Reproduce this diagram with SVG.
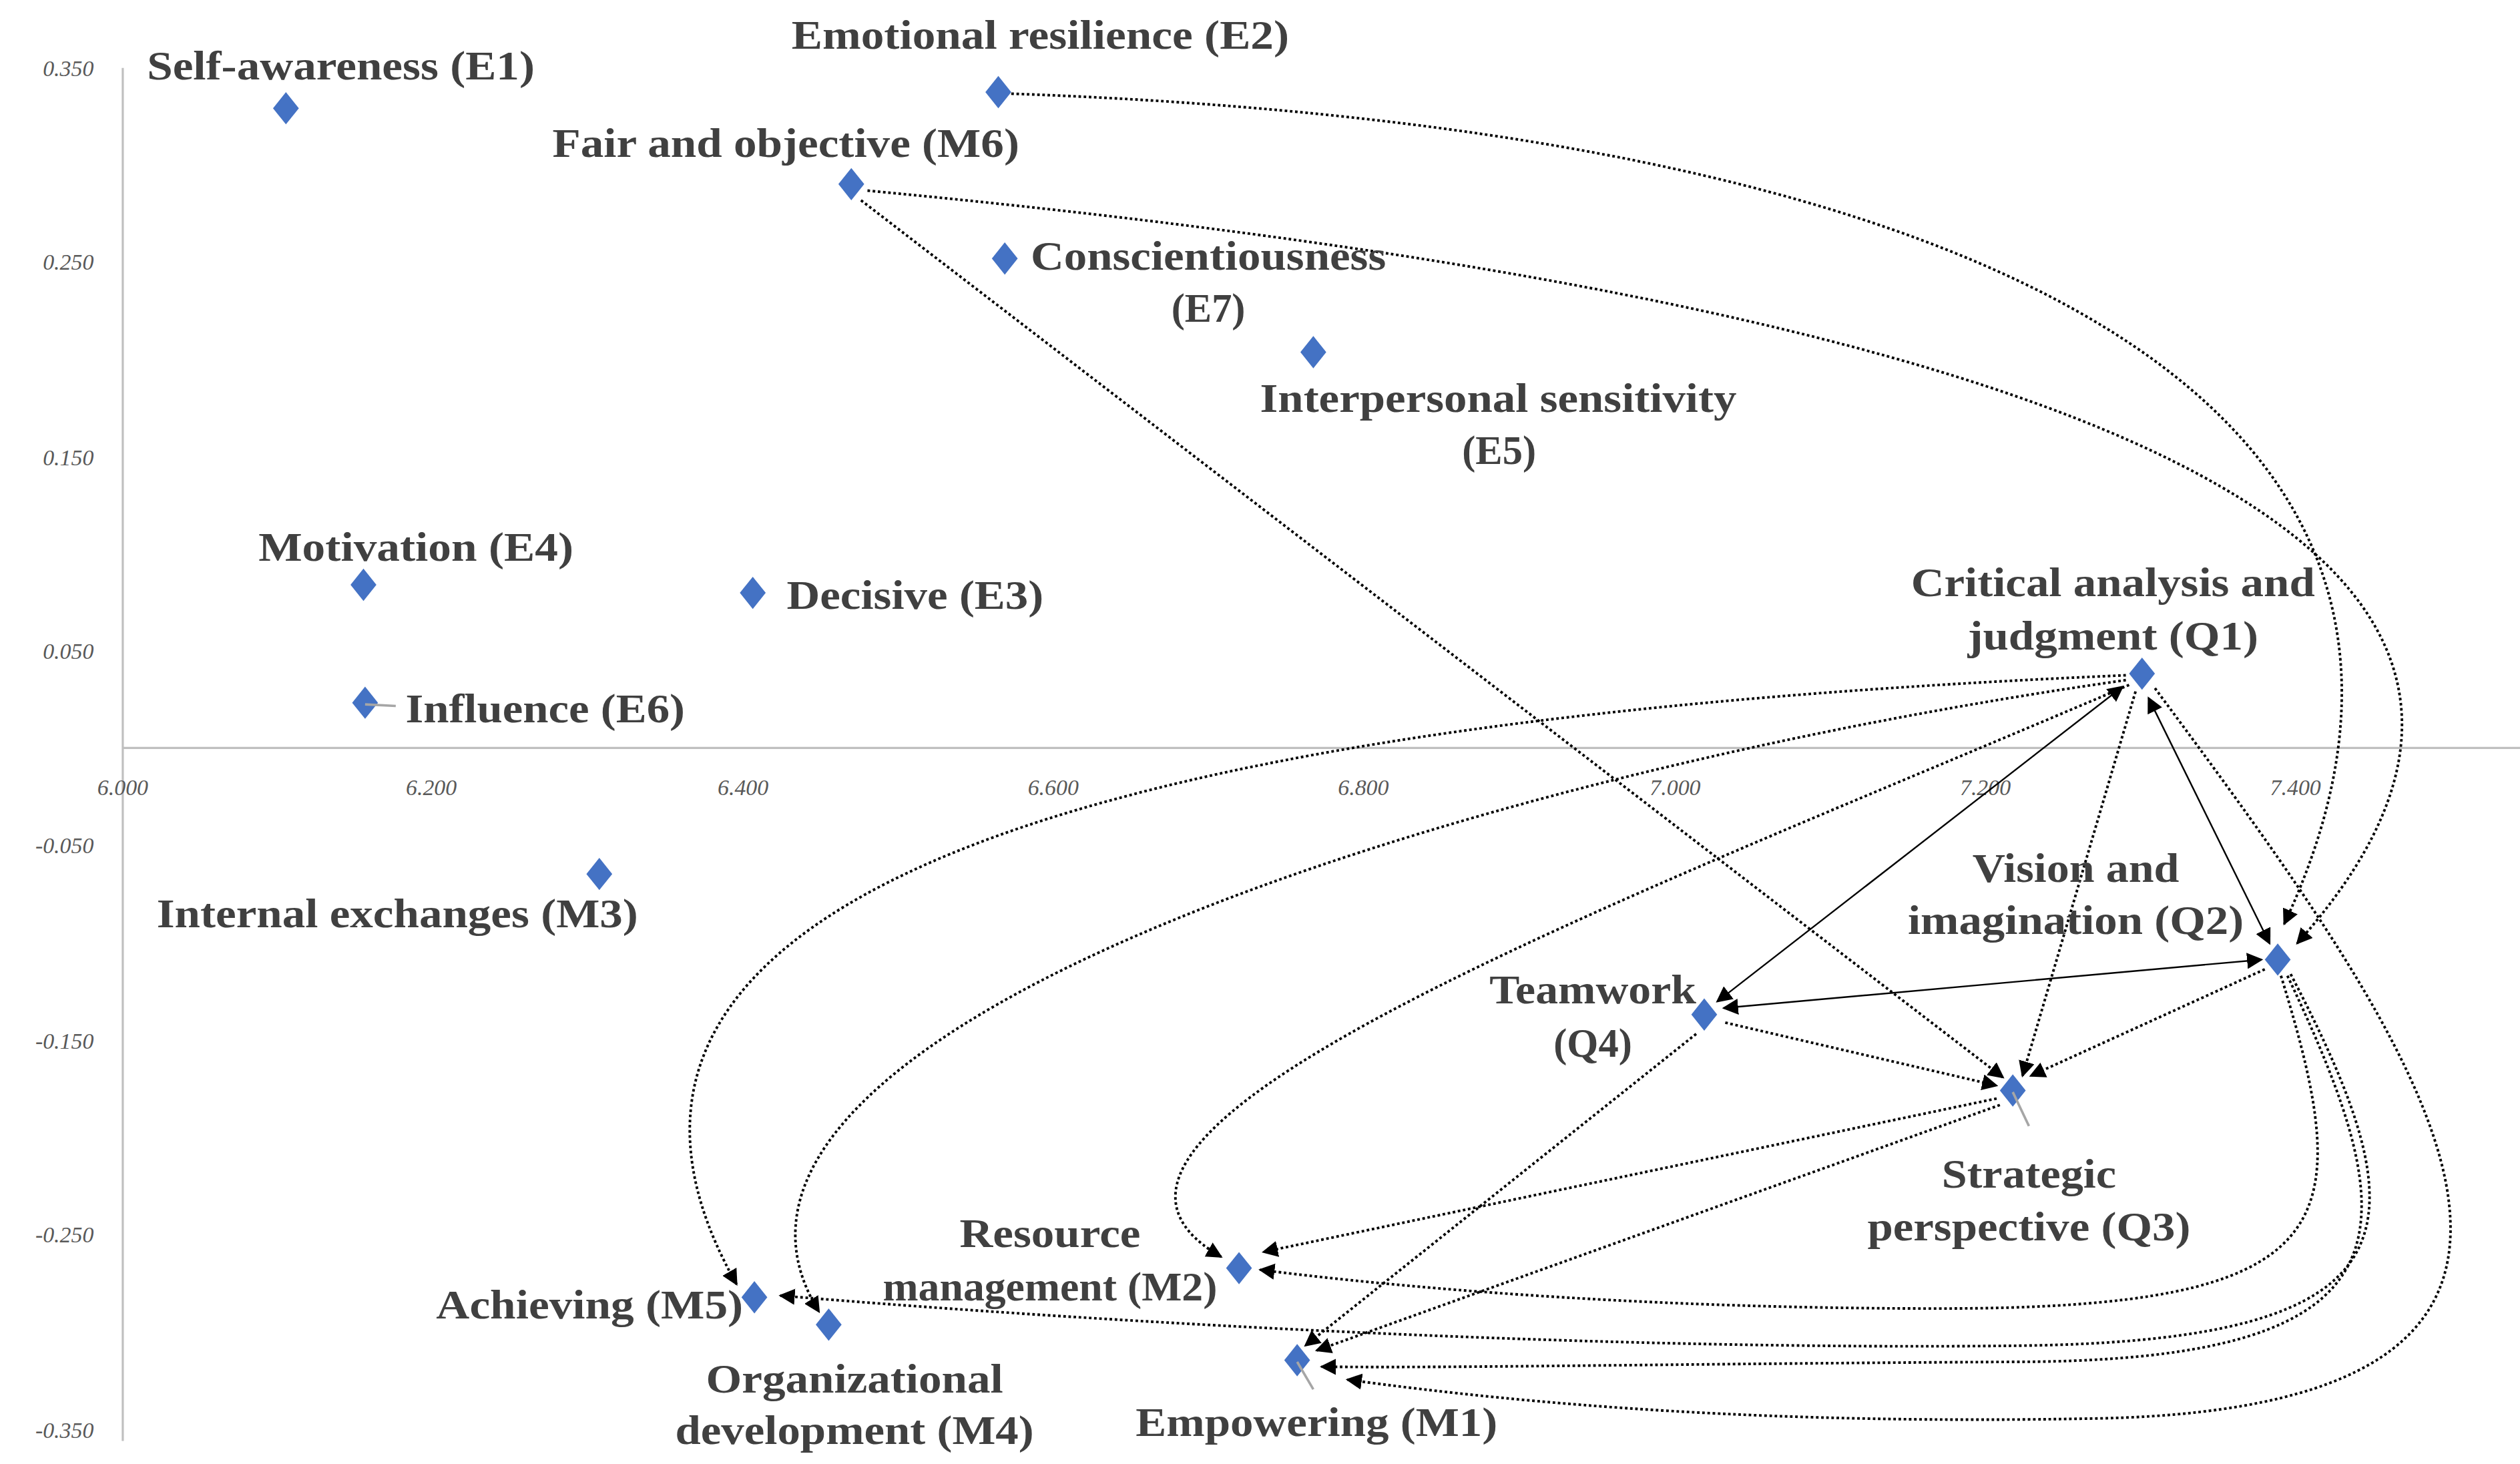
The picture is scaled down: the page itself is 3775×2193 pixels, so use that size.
<svg xmlns="http://www.w3.org/2000/svg" width="3775" height="2193" viewBox="0 0 3775 2193">
<style>
.ax{stroke:#bfbfbf;stroke-width:1.3;fill:none}
.tk{font-family:"Liberation Serif",serif;font-style:italic;font-size:14px;fill:#595959}
.lb{font-family:"Liberation Serif",serif;font-weight:bold;font-size:25px;fill:#404040}
.dt{stroke:#000;stroke-width:1.6;stroke-dasharray:1.6 1.6;fill:none}
.sl{stroke:#000;stroke-width:1;fill:none}
.nd{fill:#4472C4}
.ld{stroke:#a6a6a6;stroke-width:1.5}
</style>
<defs>
<marker id="ah" viewBox="0 0 10 10" refX="9" refY="5" markerWidth="10" markerHeight="10" markerUnits="userSpaceOnUse" orient="auto-start-reverse"><path d="M0,0 L10,5 L0,10 z" fill="#000"/></marker>
<path id="dm" d="M0,-10 L8,0 L0,10 L-8,0 z"/>
</defs>
<rect width="3775" height="2193" fill="#fff"/>
<g transform="scale(2.4199)">
<g id="axes">
<line class="ax" x1="76" y1="42" x2="76" y2="892"/>
<line class="ax" x1="76" y1="463" x2="1560" y2="463"/>
<g class="tk" text-anchor="end">
<text x="58" y="47">0.350</text><text x="58" y="167">0.250</text><text x="58" y="288">0.150</text><text x="58" y="408">0.050</text>
<text x="58" y="528">-0.050</text><text x="58" y="649">-0.150</text><text x="58" y="769">-0.250</text><text x="58" y="890">-0.350</text>
</g>
<g class="tk" text-anchor="middle">
<text x="76" y="492">6.000</text><text x="267" y="492">6.200</text><text x="460" y="492">6.400</text><text x="652" y="492">6.600</text>
<text x="844" y="492">6.800</text><text x="1037" y="492">7.000</text><text x="1229" y="492">7.200</text><text x="1421" y="492">7.400</text>
</g>
</g>
<g id="connectors">
<path class="dt" marker-end="url(#ah)" d="M626,58 C1250,80 1560,260 1414,572"/>
<path class="dt" marker-end="url(#ah)" d="M537,118 C1300,190 1640,340 1422,584"/>
<path class="dt" marker-end="url(#ah)" d="M533,124 L1240,667"/>
<path class="dt" marker-end="url(#ah)" d="M1316,418 C800,440 300,520 456,795"/>
<path class="dt" marker-end="url(#ah)" d="M1316,421 C900,480 400,640 507,812"/>
<path class="dt" marker-end="url(#ah)" d="M1318,424 C1000,560 620,700 756,778"/>
<path class="dt" marker-end="url(#ah)" d="M1322,428 L1252,666"/>
<path class="sl" marker-start="url(#ah)" marker-end="url(#ah)" d="M1314,425 L1063,620"/>
<path class="sl" marker-start="url(#ah)" marker-end="url(#ah)" d="M1330,432 L1405,584"/>
<path class="dt" marker-end="url(#ah)" d="M1334,426 C1500,650 1660,870 1300,878 C1100,882 950,870 834,854"/>
<path class="sl" marker-start="url(#ah)" marker-end="url(#ah)" d="M1400,594 L1067,624"/>
<path class="dt" marker-end="url(#ah)" d="M1402,600 L1257,666"/>
<path class="dt" marker-end="url(#ah)" d="M1068,633 L1236,672"/>
<path class="dt" marker-end="url(#ah)" d="M1050,640 L808,833"/>
<path class="dt" marker-end="url(#ah)" d="M1236,680 L782,775"/>
<path class="dt" marker-end="url(#ah)" d="M1238,684 L815,836"/>
<path class="dt" marker-end="url(#ah)" d="M1412,604 C1460,760 1450,810 1200,810 C1000,810 850,795 780,786"/>
<path class="dt" marker-end="url(#ah)" d="M1416,604 C1490,760 1500,842 1250,843 C1050,844 900,847 818,846"/>
<path class="dt" marker-end="url(#ah)" d="M1418,603 C1500,760 1500,830 1250,833 C1000,836 700,820 483,802"/>
</g>
<g id="E1"><use href="#dm" class="nd" x="177" y="67"/><text class="lb" x="91" y="49" textLength="240" lengthAdjust="spacingAndGlyphs">Self-awareness (E1)</text></g>
<g id="E2"><use href="#dm" class="nd" x="618" y="57"/><text class="lb" x="490" y="30" textLength="308" lengthAdjust="spacingAndGlyphs">Emotional resilience (E2)</text></g>
<g id="M6"><use href="#dm" class="nd" x="527" y="114"/><text class="lb" x="342" y="97" textLength="289" lengthAdjust="spacingAndGlyphs">Fair and objective (M6)</text></g>
<g id="E7"><use href="#dm" class="nd" x="622" y="160"/><text class="lb" x="638" y="167" textLength="220" lengthAdjust="spacingAndGlyphs">Conscientiousness</text><text class="lb" x="748" y="199" text-anchor="middle">(E7)</text></g>
<g id="E5"><use href="#dm" class="nd" x="813" y="218"/><text class="lb" x="780" y="255" textLength="295" lengthAdjust="spacingAndGlyphs">Interpersonal sensitivity</text><text class="lb" x="928" y="287" text-anchor="middle">(E5)</text></g>
<g id="E4"><use href="#dm" class="nd" x="225" y="362"/><text class="lb" x="160" y="347" textLength="195" lengthAdjust="spacingAndGlyphs">Motivation (E4)</text></g>
<g id="E3"><use href="#dm" class="nd" x="466" y="367"/><text class="lb" x="487" y="377" textLength="159" lengthAdjust="spacingAndGlyphs">Decisive (E3)</text></g>
<g id="E6"><use href="#dm" class="nd" x="226" y="435"/><line class="ld" x1="226" y1="436" x2="245" y2="437"/><text class="lb" x="251" y="447" textLength="173" lengthAdjust="spacingAndGlyphs">Influence (E6)</text></g>
<g id="M3"><use href="#dm" class="nd" x="371" y="541"/><text class="lb" x="97" y="574" textLength="298" lengthAdjust="spacingAndGlyphs">Internal exchanges (M3)</text></g>
<g id="Q1"><use href="#dm" class="nd" x="1326" y="417"/><text class="lb" x="1308" y="369" text-anchor="middle" textLength="250" lengthAdjust="spacingAndGlyphs">Critical analysis and</text><text class="lb" x="1308" y="402" text-anchor="middle" textLength="180" lengthAdjust="spacingAndGlyphs">judgment (Q1)</text></g>
<g id="Q2"><use href="#dm" class="nd" x="1410" y="594"/><text class="lb" x="1285" y="546" text-anchor="middle" textLength="128" lengthAdjust="spacingAndGlyphs">Vision and</text><text class="lb" x="1285" y="578" text-anchor="middle" textLength="208" lengthAdjust="spacingAndGlyphs">imagination (Q2)</text></g>
<g id="Q4"><use href="#dm" class="nd" x="1055" y="628"/><text class="lb" x="986" y="621" text-anchor="middle" textLength="128" lengthAdjust="spacingAndGlyphs">Teamwork</text><text class="lb" x="986" y="654" text-anchor="middle">(Q4)</text></g>
<g id="Q3"><use href="#dm" class="nd" x="1246" y="675"/><line class="ld" x1="1246" y1="676" x2="1256" y2="697"/><text class="lb" x="1256" y="735" text-anchor="middle" textLength="108" lengthAdjust="spacingAndGlyphs">Strategic</text><text class="lb" x="1256" y="768" text-anchor="middle" textLength="200" lengthAdjust="spacingAndGlyphs">perspective (Q3)</text></g>
<g id="M2"><use href="#dm" class="nd" x="767" y="785"/><text class="lb" x="650" y="772" text-anchor="middle" textLength="112" lengthAdjust="spacingAndGlyphs">Resource</text><text class="lb" x="650" y="805" text-anchor="middle" textLength="207" lengthAdjust="spacingAndGlyphs">management (M2)</text></g>
<g id="M5"><use href="#dm" class="nd" x="467" y="803"/><text class="lb" x="270" y="816" textLength="190" lengthAdjust="spacingAndGlyphs">Achieving (M5)</text></g>
<g id="M4"><use href="#dm" class="nd" x="513" y="820"/><text class="lb" x="529" y="862" text-anchor="middle" textLength="184" lengthAdjust="spacingAndGlyphs">Organizational</text><text class="lb" x="529" y="894" text-anchor="middle" textLength="222" lengthAdjust="spacingAndGlyphs">development (M4)</text></g>
<g id="M1"><use href="#dm" class="nd" x="803" y="842"/><line class="ld" x1="803" y1="843" x2="813" y2="860"/><text class="lb" x="703" y="889" textLength="224" lengthAdjust="spacingAndGlyphs">Empowering (M1)</text></g>
</g>
</svg>
